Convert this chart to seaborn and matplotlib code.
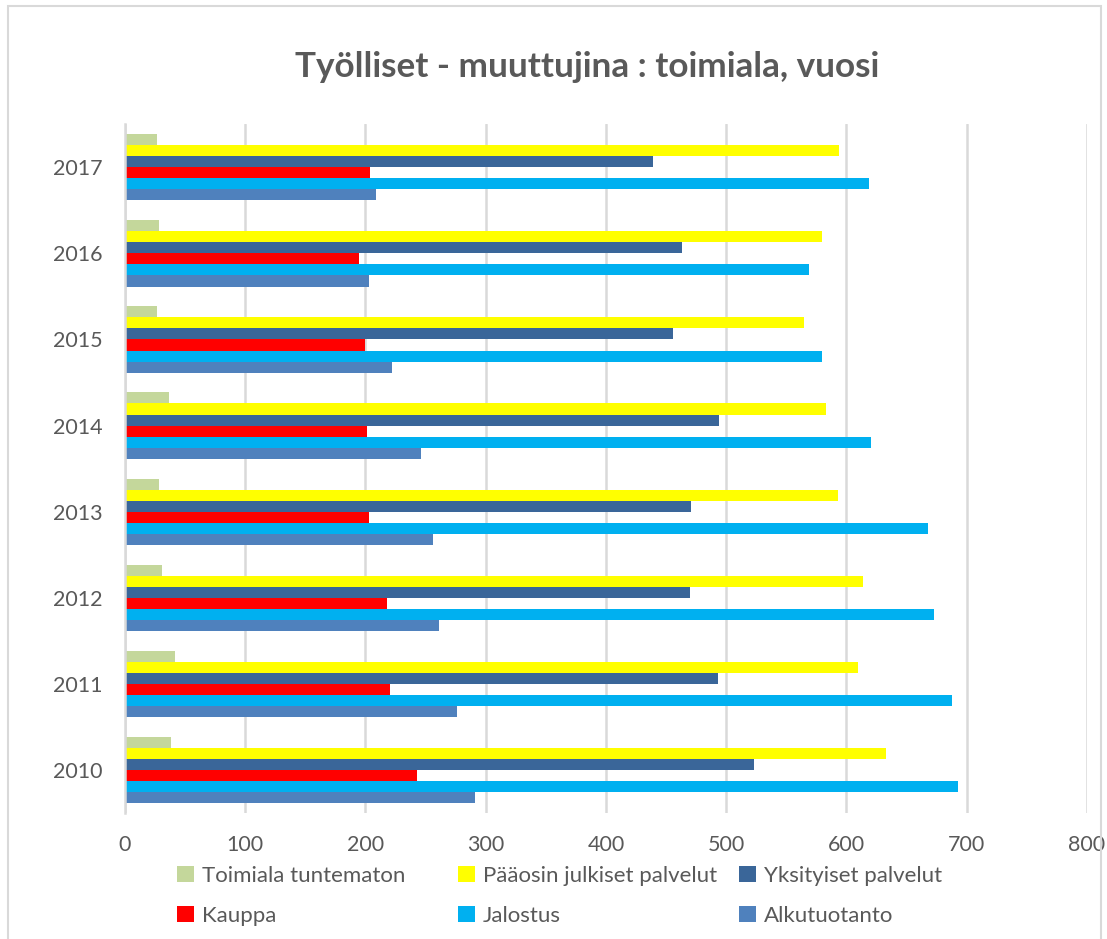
import pandas as pd
import seaborn as sns
import matplotlib
matplotlib.use("Agg")
import matplotlib.pyplot as plt
from matplotlib.patches import Rectangle, Patch

# ── Data ──────────────────────────────────────────────────────────────
YEARS = ["2017", "2016", "2015", "2014", "2013", "2012", "2011", "2010"]
SERIES = [
    "Toimiala tuntematon",
    "Pääosin julkiset palvelut",
    "Yksityiset palvelut",
    "Kauppa",
    "Jalostus",
    "Alkutuotanto",
]
toimiala_tuntematon = [27, 28, 27, 37, 28, 31, 42, 38]
julkiset_palvelut   = [594, 580, 565, 583, 593, 614, 610, 633]
yksityiset_palvelut = [439, 463, 456, 494, 471, 470, 493, 523]
kauppa              = [204, 195, 200, 201, 203, 218, 220, 243]
jalostus            = [619, 569, 580, 620, 668, 673, 688, 693]
alkutuotanto        = [209, 203, 222, 246, 256, 261, 276, 291]

COLORS = ["#C4D79B", "#FFFF00", "#3A6699", "#FF0000", "#00B0F0", "#4F81BD"]
TEXT = "#595959"

values = [toimiala_tuntematon, julkiset_palvelut, yksityiset_palvelut,
          kauppa, jalostus, alkutuotanto]
df = pd.DataFrame(
    [(y, s, v) for s, vals in zip(SERIES, values) for y, v in zip(YEARS, vals)],
    columns=["vuosi", "toimiala", "tyolliset"],
)

sns.set_theme(style="white")
plt.rcParams["font.family"] = ["Lato", "DejaVu Sans"]

fig = plt.figure(figsize=(11.07, 9.39), dpi=100)
ax = fig.add_axes([0.1129, 0.1342, 0.8690, 0.7335])

sns.barplot(data=df, y="vuosi", x="tyolliset", hue="toimiala",
            order=YEARS, hue_order=SERIES, palette=COLORS,
            orient="h", width=0.77, gap=0, saturation=1,
            linewidth=0, legend=False, ax=ax)

ax.set_xlim(0, 800)
ax.set_ylim(7.5, -0.5)
ax.set_xticks(range(0, 801, 100))
ax.grid(axis="x", color="#D9D9D9", lw=1.8)
ax.set_axisbelow(True)
for side in ["top", "right", "bottom"]:
    ax.spines[side].set_visible(False)
ax.spines["left"].set_color("#D9D9D9")
ax.spines["left"].set_linewidth(1.8)
ax.tick_params(axis="both", length=0, labelsize=15.5, labelcolor=TEXT)
ax.tick_params(axis="x", pad=16)
ax.tick_params(axis="y", pad=16)
ax.set_xlabel("")
ax.set_ylabel("")

fig.text(0.530, 0.929, "Työlliset - muuttujina : toimiala, vuosi",
         ha="center", va="center", fontsize=25.3, fontweight="bold", color=TEXT)

# legend: three columns of equal spacing, two rows
cols = [(0, 3), (1, 4), (2, 5)]
xs = [0.160, 0.414, 0.668]
for (a, b), x in zip(cols, xs):
    handles = [Patch(facecolor=COLORS[i], edgecolor="none") for i in (a, b)]
    fig.legend(handles, [SERIES[a], SERIES[b]], loc="upper left",
               bbox_to_anchor=(x, 0.078), frameon=False, fontsize=16,
               labelcolor=TEXT, handlelength=0.75, handleheight=0.75,
               handletextpad=0.35, labelspacing=0.9, borderaxespad=0,
               borderpad=0)

# outer chart border
fig.patches.append(Rectangle((8 / 1107, -0.01), 1093 / 1107, 1 - 6 / 939 + 0.01,
                             transform=fig.transFigure, fill=False,
                             edgecolor="#D9D9D9", lw=1.5))

fig.savefig("out.png", dpi=100)
